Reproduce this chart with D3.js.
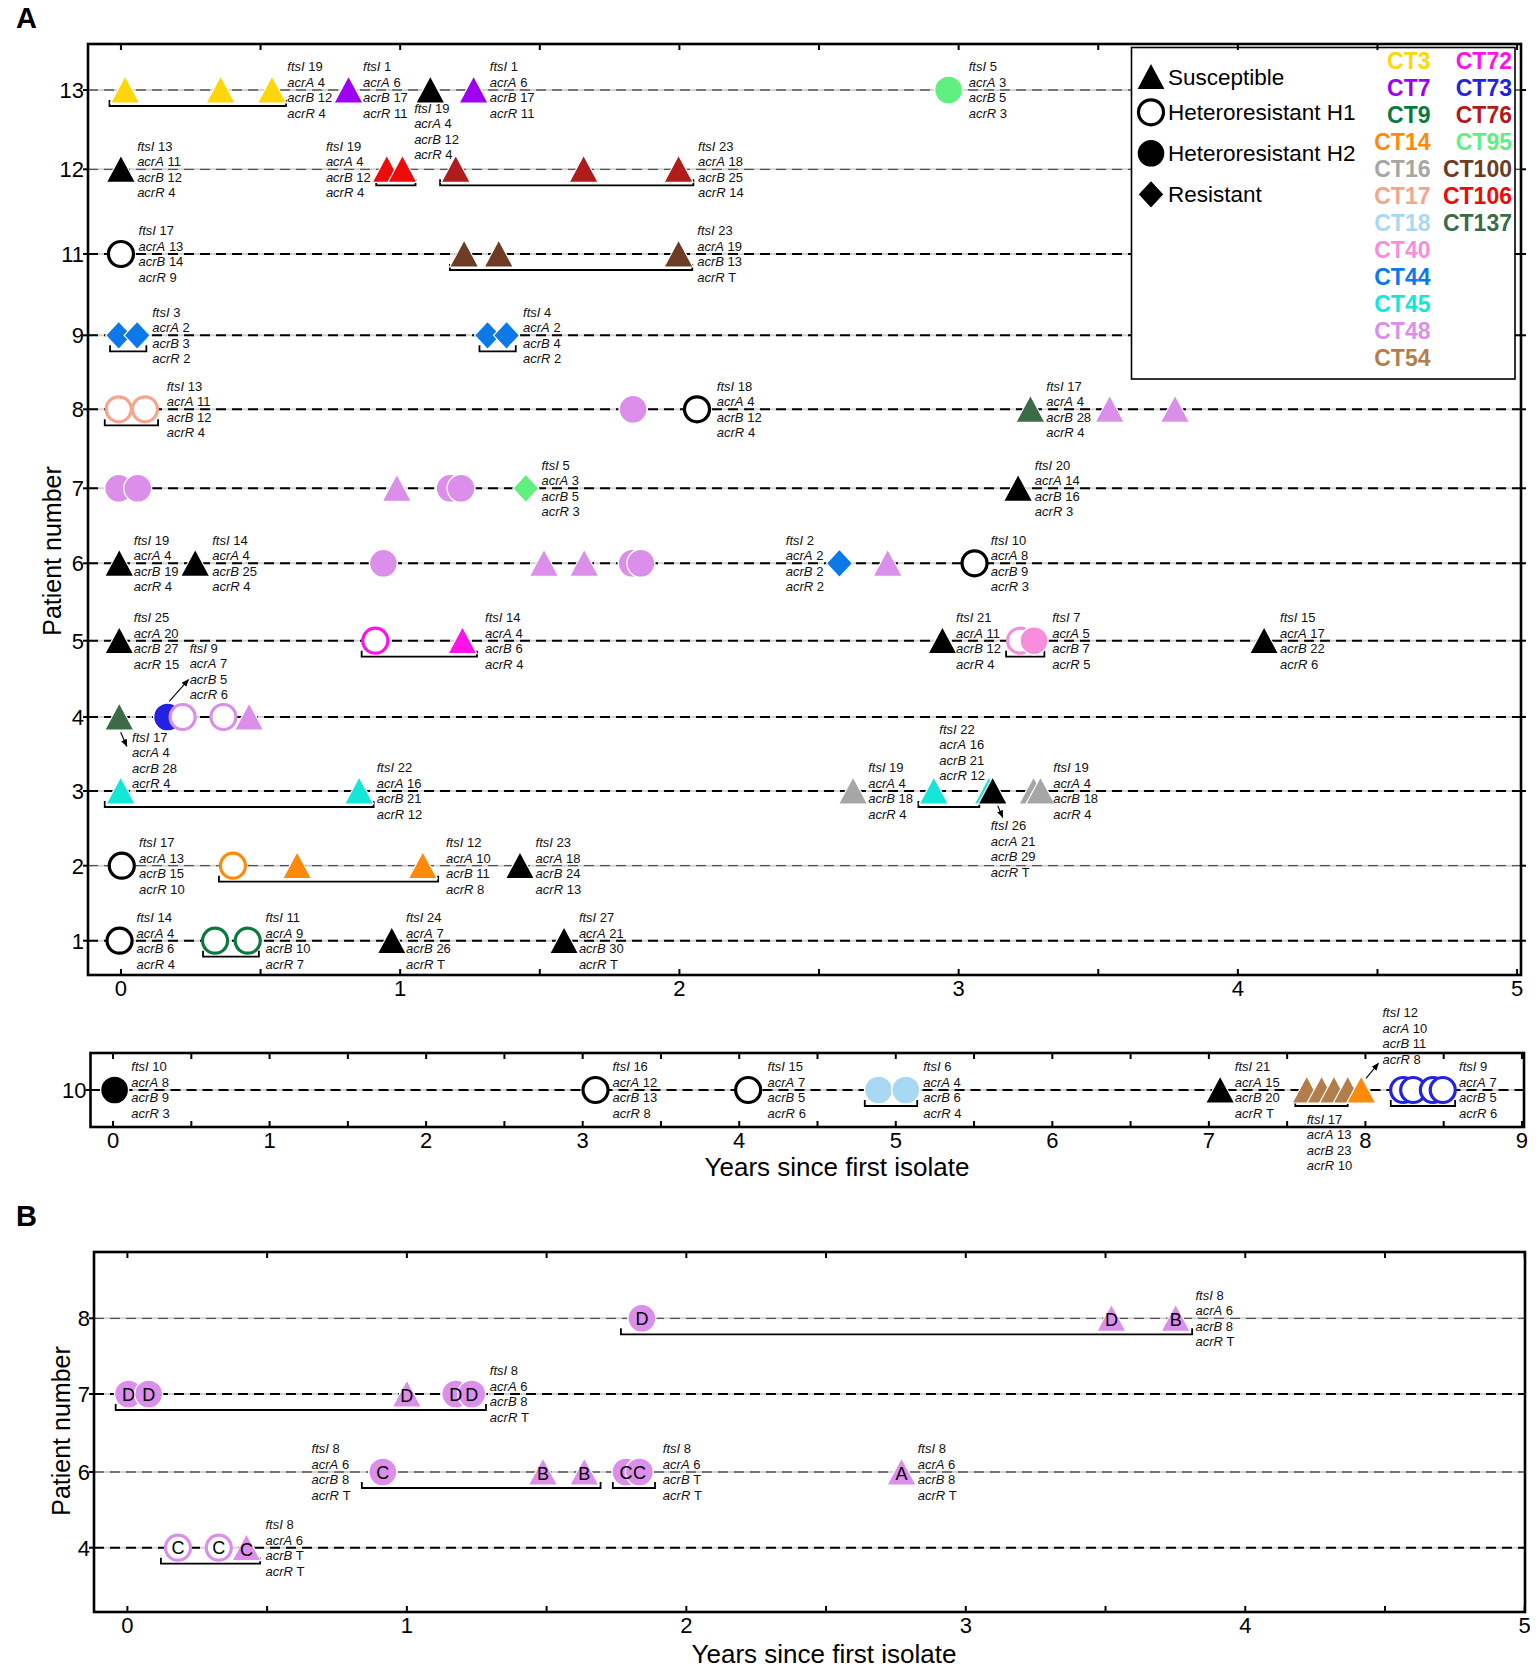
<!DOCTYPE html>
<html><head><meta charset="utf-8">
<script src="https://cdn.jsdelivr.net/npm/d3@7"></script>
<style>
body{margin:0;background:#fff;}
svg{display:block;font-family:'Liberation Sans',Arial,Helvetica,sans-serif;}
</style></head><body>
<svg id="chart" width="1536" height="1669"></svg>
<script>
// ================= DATA =================
const legendCol1 = ["CT3","CT7","CT9","CT14","CT16","CT17","CT18","CT40","CT44","CT45","CT48","CT54"];
const legendCol2 = ["CT72","CT73","CT76","CT95","CT100","CT106","CT137"];
const phenotypes = [["S","Susceptible"],["H1","Heteroresistant H1"],["H2","Heteroresistant H2"],["R","Resistant"]];
const geneNames = ["ftsI","acrA","acrB","acrR"];

const patientsA = [13,12,11,9,8,7,6,5,4,3,2,1];
const patients10 = [10];
const patientsB = [8,7,6,4];
const xTickLabelsA = [0,1,2,3,4,5];
const xTickLabels10 = [0,1,2,3,4,5,6,7,8,9];
const xTickLabelsB = [0,1,2,3,4,5];

// isolates: [patient, years since first isolate, CT type ("" = black), phenotype]
const isolatesA = [
 [13,0.015,"CT3","S"],[13,0.357,"CT3","S"],[13,0.541,"CT3","S"],
 [13,0.815,"CT7","S"],[13,1.108,"","S"],[13,1.263,"CT7","S"],[13,2.964,"CT95","H2"],
 [12,0.0,"","S"],[12,0.952,"CT106","S"],[12,1.008,"CT106","S"],[12,1.199,"CT76","S"],[12,1.657,"CT76","S"],[12,1.997,"CT76","S"],
 [11,0.0,"","H1"],[11,1.229,"CT100","S"],[11,1.353,"CT100","S"],[11,1.997,"CT100","S"],
 [9,-0.008,"CT44","R"],[9,0.058,"CT44","R"],[9,1.313,"CT44","R"],[9,1.381,"CT44","R"],
 [8,-0.008,"CT17","H1"],[8,0.086,"CT17","H1"],[8,1.834,"CT48","H2"],[8,2.063,"","H1"],[8,3.257,"CT137","S"],[8,3.541,"CT48","S"],[8,3.775,"CT48","S"],
 [7,-0.008,"CT48","H2"],[7,0.060,"CT48","H2"],[7,0.988,"CT48","S"],[7,1.179,"CT48","H2"],[7,1.218,"CT48","H2"],[7,1.450,"CT95","R"],[7,3.213,"","S"],
 [6,-0.006,"","S"],[6,0.266,"","S"],[6,0.940,"CT48","H2"],[6,1.515,"CT48","S"],[6,1.659,"CT48","S"],[6,1.831,"CT48","H2"],[6,1.862,"CT48","H2"],[6,2.573,"CT44","R"],[6,2.746,"CT48","S"],[6,3.057,"","H1"],
 [5,-0.006,"","S"],[5,0.911,"CT72","H1"],[5,1.223,"CT72","S"],[5,2.942,"","S"],[5,3.220,"CT40","H1"],[5,3.270,"CT40","H2"],[5,4.094,"","S"],
 [4,-0.006,"CT137","S"],[4,0.167,"CT73","H2"],[4,0.221,"CT48","H1"],[4,0.367,"CT48","H1"],[4,0.459,"CT48","S"],
 [3,-0.001,"CT45","S"],[3,0.853,"CT45","S"],[3,2.622,"CT16","S"],[3,2.911,"CT45","S"],[3,3.108,"CT45","S"],[3,3.122,"","S"],[3,3.268,"CT16","S"],[3,3.293,"CT16","S"],
 [2,0.003,"","H1"],[2,0.401,"CT14","H1"],[2,0.631,"CT14","S"],[2,1.081,"CT14","S"],[2,1.429,"","S"],
 [1,-0.005,"","H1"],[1,0.337,"CT9","H1"],[1,0.454,"CT9","H1"],[1,0.970,"","S"],[1,1.587,"","S"]
];
const isolates10 = [
 [10,0.01,"","H2"],[10,3.082,"","H1"],[10,4.057,"","H1"],[10,4.89,"CT18","H2"],[10,5.064,"CT18","H2"],[10,7.072,"","S"],
 [10,7.625,"CT54","S"],[10,7.72,"CT54","S"],[10,7.799,"CT54","S"],[10,7.887,"CT54","S"],[10,7.973,"CT14","S"],
 [10,8.241,"CT73","H1"],[10,8.305,"CT73","H1"],[10,8.431,"CT73","H1"],[10,8.494,"CT73","H1"]
];
// panel B: [patient, years, CT, phenotype, subtype letter]
const isolatesB = [
 [8,1.841,"CT48","H2","D"],[8,3.521,"CT48","S","D"],[8,3.751,"CT48","S","B"],
 [7,0.004,"CT48","H2","D"],[7,0.076,"CT48","H2","D"],[7,1.0,"CT48","S","D"],[7,1.175,"CT48","H2","D"],[7,1.232,"CT48","H2","D"],
 [6,0.914,"CT48","H2","C"],[6,1.487,"CT48","S","B"],[6,1.635,"CT48","S","B"],[6,1.784,"CT48","H2","C"],[6,1.832,"CT48","H2","C"],[6,2.770,"CT48","S","A"],
 [4,0.181,"CT48","H1","C"],[4,0.327,"CT48","H1","C"],[4,0.426,"CT48","S","C"]
];

// brackets grouping isolates: [patient, from year, to year]
const bracketsA = [
 [13,-0.041,0.591],[12,0.914,1.055],[12,1.143,2.050],[11,1.178,2.046],
 [9,-0.039,0.091],[9,1.284,1.414],[8,-0.058,0.133],
 [5,0.862,1.275],[5,3.170,3.307],[3,-0.058,0.905],[3,2.856,3.074],
 [2,0.351,1.136],[1,0.294,0.494]
];
const brackets10 = [[10,4.802,5.137],[10,7.552,7.887],[10,8.162,8.573]];
const bracketsB = [[8,1.766,3.810],[7,-0.042,1.283],[6,0.839,1.693],[6,1.737,1.888],[4,0.120,0.475]];

// allele labels: [patient, anchor year, ftsI, acrA, acrB, acrR, vertical shift in label lines]
const labelsA = [
 [13,0.596,"19","4","12","4",0],[13,0.867,"1","6","17","11",0],[13,1.050,"19","4","12","4",2.68],
 [13,1.321,"1","6","17","11",0],[13,3.036,"5","3","5","3",0],
 [12,0.058,"13","11","12","4",0],[12,0.734,"19","4","12","4",0],[12,2.067,"23","18","25","14",0],
 [11,0.063,"17","13","14","9",0],[11,2.064,"23","19","13","T",0],
 [9,0.112,"3","2","3","2",0],[9,1.440,"4","2","4","2",0],
 [8,0.164,"13","11","12","4",0],[8,2.134,"18","4","12","4",0],[8,3.314,"17","4","28","4",0],
 [7,1.506,"5","3","5","3",0],[7,3.273,"20","14","16","3",0],
 [6,0.046,"19","4","19","4",0],[6,0.327,"14","4","25","4",0],[6,2.381,"2","2","2","2",0],[6,3.115,"10","8","9","3",0],
 [5,0.046,"25","20","27","15",0],[5,1.304,"14","4","6","4",0],[5,2.991,"21","11","12","4",0],[5,3.335,"7","5","7","5",0],[5,4.151,"15","17","22","6",0],
 [4,0.246,"9","7","5","6",-2.95],[4,0.040,"17","4","28","4",2.79],
 [3,0.916,"22","16","21","12",0],[3,2.676,"19","4","18","4",0],[3,2.931,"22","16","21","12",-2.48],[3,3.115,"26","21","29","T",3.72],[3,3.339,"19","4","18","4",0],
 [2,0.065,"17","13","15","10",0],[2,1.164,"12","10","11","8",0],[2,1.485,"23","18","24","13",0],
 [1,0.056,"14","4","6","4",0],[1,0.518,"11","9","10","7",0],[1,1.021,"24","7","26","T",0],[1,1.640,"27","21","30","T",0]
];
const labels10 = [
 [10,0.117,"10","8","9","3",0],[10,3.19,"16","12","13","8",0],[10,4.181,"15","7","5","6",0],[10,5.175,"6","4","6","4",0],
 [10,7.166,"21","15","20","T",0],[10,7.625,"17","13","23","10",3.39],[10,8.109,"12","10","11","8",-3.48],[10,8.598,"9","7","5","6",0]
];
const labelsB = [
 [8,3.822,"8","6","8","T",0],[7,1.297,"8","6","8","T",0],[6,0.659,"8","6","8","T",0],
 [6,1.916,"8","6","T","T",0],[6,2.828,"8","6","8","T",0],[4,0.494,"8","6","T","T",0]
];
// pointer arrows: [patient, from year, from shift, to year, to shift] (shift in label lines)
const arrowsA = [[4,0.173,-1.01,0.242,-2.41],[4,-0.001,0.99,0.021,1.89],[3,3.140,0.95,3.158,1.70]];
const arrows10 = [[10,8.004,-0.75,8.083,-1.72]];

// ================= STYLE / LAYOUT =================
const ctColor = {
 "CT3":"#FFD60A","CT7":"#A000F2","CT9":"#0A7A3C","CT14":"#FF8A0A","CT16":"#A6A6A6","CT17":"#F7A48C",
 "CT18":"#A9D8F4","CT40":"#F78EDB","CT44":"#0B79E8","CT45":"#14E6D8","CT48":"#DB8EEA","CT54":"#B37E4B",
 "CT72":"#FF12E8","CT73":"#2222E0","CT76":"#B01C1C","CT95":"#5FF07F","CT100":"#6C3C24","CT106":"#EE0A0A",
 "CT137":"#3C6B48","":"#000000"
};
const LINE = 15.5;     // label line height (px)
const thinRows = {A:[13,12,2], P10:[], B:[8,6]};
// row band positions (the figure's rows are not evenly spaced)
const rowPixA = [90, 169.3, 254, 335.3, 409.3, 488.3, 563.3, 640.7, 717, 791, 865.7, 940.7];
const rowPix10 = [1090];
const rowPixB = [1318.3, 1394, 1472, 1547.7];

// ================= DRAW =================
const svg = d3.select("#chart");
svg.append("rect").attr("width",1536).attr("height",1669).attr("fill","#fff");
const defs = svg.append("defs");
defs.append("marker").attr("id","arr").attr("viewBox","0 0 10 10").attr("refX",9).attr("refY",5)
  .attr("markerWidth",7).attr("markerHeight",7).attr("orient","auto")
  .append("path").attr("d","M0,1L10,5L0,9Z").attr("fill","#000");

function drawShape(g, cx, cy, ct, type) {
  const col = ctColor[ct];
  if (type === "S") {
    g.append("path").attr("d",`M${cx},${cy-14}L${cx+14.5},${cy+13}L${cx-14.5},${cy+13}Z`)
      .attr("fill",col).attr("stroke","#fff").attr("stroke-width",1.2);
  } else if (type === "H1") {
    g.append("circle").attr("cx",cx).attr("cy",cy).attr("r",12.5)
      .attr("fill","#fff").attr("stroke",col).attr("stroke-width",3.2);
  } else if (type === "H2") {
    g.append("circle").attr("cx",cx).attr("cy",cy).attr("r",14)
      .attr("fill",col).attr("stroke","#fff").attr("stroke-width",1.4);
  } else if (type === "R") {
    g.append("path").attr("d",`M${cx},${cy-14}L${cx+13},${cy}L${cx},${cy+14}L${cx-13},${cy}Z`)
      .attr("fill",col).attr("stroke","#fff").attr("stroke-width",1.2);
  }
}

function drawPanel(cfg) {
  const {L,R,T,B,x,y,rows,thin,ticksMax,tickLabels,isolates,brackets,labels,arrows,rightTicks} = cfg;
  const g = svg.append("g");
  // gridlines
  rows.forEach(p => {
    const yy = y(p);
    const isThin = thin.includes(p);
    g.append("line").attr("x1",L).attr("x2",R).attr("y1",yy).attr("y2",yy)
      .attr("stroke","#d4d4d4").attr("stroke-width",2);
    g.append("line").attr("x1",L).attr("x2",R).attr("y1",yy).attr("y2",yy)
      .attr("stroke", isThin ? "#555" : "#000").attr("stroke-width", isThin ? 1.3 : 2)
      .attr("stroke-dasharray","10,6");
  });
  if (cfg.before) cfg.before(g);
  // brackets
  brackets.forEach(([p,a,b]) => {
    const yy = y(p) + 16;
    g.append("path").attr("d",`M${x(a)},${yy-6}V${yy}H${x(b)}V${yy-6}`)
      .attr("fill","none").attr("stroke","#000").attr("stroke-width",1.8);
  });
  // markers
  isolates.forEach(d => drawShape(g, x(d[1]), y(d[0]), d[2], d[3]));
  // subtype letters on top of all markers
  isolates.filter(d => d[4]).forEach(d => {
    g.append("text").attr("x",x(d[1])).attr("y",y(d[0]) + (d[3]==="S"?8:6.5)).attr("text-anchor","middle")
      .attr("font-size",18).attr("fill","#000").text(d[4]);
  });
  // labels
  labels.forEach(d => {
    const [p, yr, f, a, bb, r, shift] = d;
    const yc = y(p) + shift*LINE;
    [f,a,bb,r].forEach((v,i) => {
      const t = g.append("text").attr("x",x(yr)).attr("y",yc + (i-1.5)*LINE + 4.6)
        .attr("font-size",13).attr("fill","#111");
      t.append("tspan").attr("font-style","italic").text(geneNames[i]);
      t.append("tspan").text("\u00A0" + v);
    });
  });
  // arrows
  arrows.forEach(([p,a,s1,b,s2]) => {
    g.append("line").attr("x1",x(a)).attr("y1",y(p)+s1*LINE).attr("x2",x(b)).attr("y2",y(p)+s2*LINE)
      .attr("stroke","#000").attr("stroke-width",1.1).attr("marker-end","url(#arr)");
  });
  // frame
  g.append("rect").attr("x",L).attr("y",T).attr("width",R-L).attr("height",B-T)
    .attr("fill","none").attr("stroke","#000").attr("stroke-width",2.6);
  // x ticks (inward) every half year
  d3.range(0, ticksMax + 0.001, 0.5).forEach(v => {
    const xx = x(v);
    g.append("line").attr("x1",xx).attr("x2",xx).attr("y1",T).attr("y2",T+6).attr("stroke","#000").attr("stroke-width",2);
    g.append("line").attr("x1",xx).attr("x2",xx).attr("y1",B).attr("y2",B-6).attr("stroke","#000").attr("stroke-width",2);
  });
  tickLabels.forEach(v => {
    g.append("text").attr("x",x(v)).attr("y",B+21).attr("text-anchor","middle")
      .attr("font-size",22).attr("fill","#000").text(v);
  });
  // y ticks (outward)
  rows.forEach(p => {
    const yy = y(p);
    g.append("line").attr("x1",L-5).attr("x2",L).attr("y1",yy).attr("y2",yy).attr("stroke","#000").attr("stroke-width",2);
    if (rightTicks) g.append("line").attr("x1",R).attr("x2",R+5).attr("y1",yy).attr("y2",yy).attr("stroke","#000").attr("stroke-width",2);
    g.append("text").attr("x",L-4).attr("y",yy+8).attr("text-anchor","end")
      .attr("font-size",22).attr("fill","#000").text(p);
  });
  return g;
}

// ---------- Panel A (main) ----------
const xA = d3.scaleLinear().domain([-0.118, 5.014]).range([88, 1521]);
const yA = d3.scaleOrdinal().domain(patientsA).range(rowPixA);
drawPanel({
  L:88, R:1521, T:44, B:975, x:xA, y:yA, rows:patientsA, thin:thinRows.A, ticksMax:5,
  tickLabels:xTickLabelsA, isolates:isolatesA, brackets:bracketsA, labels:labelsA, arrows:arrowsA, rightTicks:true,
  before: g => {
    // legend
    const lg = g.append("g");
    lg.append("rect").attr("x",1131.5).attr("y",47.5).attr("width",383.5).attr("height",331.5)
      .attr("fill","#fff").attr("stroke","#000").attr("stroke-width",1.6);
    const ly = [76.7,112.3,153.3,194.3];
    phenotypes.forEach(([code,name],i) => {
      drawShape(lg, 1151, ly[i], "", code);
      lg.append("text").attr("x",1168).attr("y",ly[i]+8).attr("font-size",22.5).attr("fill","#000").text(name);
    });
    legendCol1.forEach((c,i) => lg.append("text").attr("x",1430.5).attr("y",61+i*27+8.3)
      .attr("text-anchor","end").attr("font-size",23).attr("font-weight","bold").attr("fill",ctColor[c]).text(c));
    legendCol2.forEach((c,i) => lg.append("text").attr("x",1512).attr("y",61+i*27+8.3)
      .attr("text-anchor","end").attr("font-size",23).attr("font-weight","bold").attr("fill",ctColor[c]).text(c));
  }
});
svg.append("text").attr("x",61).attr("y",551).attr("transform","rotate(-90,61,551)")
  .attr("text-anchor","middle").attr("font-size",25).text("Patient number");

// ---------- Patient 10 strip ----------
const x10 = d3.scaleLinear().domain([-0.144, 9.013]).range([90.5, 1524]);
const y10 = d3.scaleOrdinal().domain(patients10).range(rowPix10);
drawPanel({
  L:90.5, R:1524, T:1053, B:1127, x:x10, y:y10, rows:patients10, thin:thinRows.P10, ticksMax:9,
  tickLabels:xTickLabels10, isolates:isolates10, brackets:brackets10, labels:labels10, arrows:arrows10, rightTicks:false
});
svg.append("text").attr("x",837).attr("y",1176).attr("text-anchor","middle").attr("font-size",26).text("Years since first isolate");

// ---------- Panel B ----------
const xB = d3.scaleLinear().domain([-0.1195, 5.001]).range([94, 1525]);
const yB = d3.scaleOrdinal().domain(patientsB).range(rowPixB);
drawPanel({
  L:94, R:1525, T:1252, B:1612, x:xB, y:yB, rows:patientsB, thin:thinRows.B, ticksMax:5,
  tickLabels:xTickLabelsB, isolates:isolatesB, brackets:bracketsB, labels:labelsB, arrows:[], rightTicks:false
});
svg.append("text").attr("x",70).attr("y",1431).attr("transform","rotate(-90,70,1431)")
  .attr("text-anchor","middle").attr("font-size",25).text("Patient number");
svg.append("text").attr("x",824).attr("y",1663).attr("text-anchor","middle").attr("font-size",26).text("Years since first isolate");

// panel letters
svg.append("text").attr("x",16).attr("y",28).attr("font-size",29).attr("font-weight","bold").text("A");
svg.append("text").attr("x",16).attr("y",1226).attr("font-size",29).attr("font-weight","bold").text("B");
</script>
</body></html>
